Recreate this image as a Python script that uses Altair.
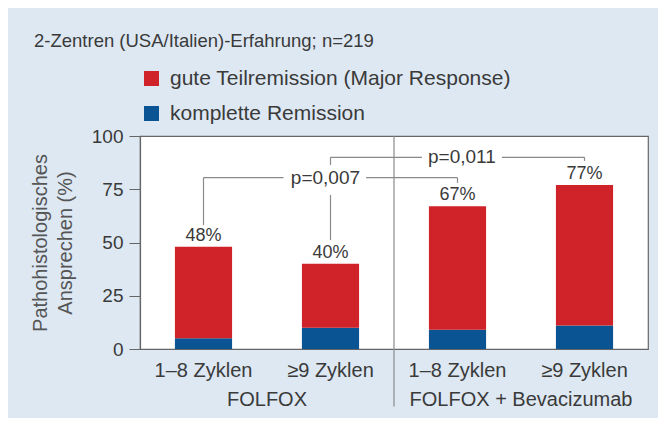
import altair as alt
import pandas as pd

# ---- data ----
keys = ["FOLFOX|1–8 Zyklen", "FOLFOX|≥9 Zyklen", "BEV|1–8 Zyklen", "BEV|≥9 Zyklen"]
total = [48, 40, 67, 77]          # total response (%)
complete = [5, 10, 9, 11]         # komplette Remission (%)
series = ["gute Teilremission (Major Response)", "komplette Remission"]
colors = ["#cf2329", "#0b5494"]

# bracket segments (x in category units 0..4, y in %)
seg_x = [0.5, 0.5, 1.78, 2.5, 1.5, 1.5, 1.5, 2.85, 3.5, 2.0]
seg_x2 = [0.5, 1.13, 2.5, 2.5, 1.5, 1.5, 2.22, 3.5, 3.5, 2.0]
seg_y = [58.2, 80.5, 80.5, 80.5, 51.2, 86.4, 90.0, 90.0, 90.0, 100]
seg_y2 = [80.5, 80.5, 80.5, 78.0, 72.3, 90.0, 90.0, 90.0, 88.3, -27]
seg_kind = ["b"] * 9 + ["d"]

p_text = ["p=0,007", "p=0,011"]
p_x = [1.46, 2.535]
p_y = [80.5, 90.0]

grp_text = ["FOLFOX", "FOLFOX + Bevacizumab"]
grp_x = [1.0, 3.0]
grp_y = [-24, -24]

FONT = "Liberation Sans"
TXT = "#3a3a3a"

rows = []
for i, k in enumerate(keys):
    rows.append({"key": k, "series": series[1], "val": complete[i], "ord": 0})
    rows.append({"key": k, "series": series[0], "val": total[i] - complete[i], "ord": 1})
bars_df = pd.DataFrame(rows)
lab_df = pd.DataFrame({"key": keys, "total": total,
                       "label": [f"{t}%" for t in total]})
seg_df = pd.DataFrame({"x": seg_x, "x2": seg_x2, "y": seg_y, "y2": seg_y2, "kind": seg_kind})
p_df = pd.DataFrame({"t": p_text, "x": p_x, "y": p_y})
grp_df = pd.DataFrame({"t": grp_text, "x": grp_x, "y": grp_y})

yscale = alt.Scale(domain=[0, 100], nice=False)
xband = alt.X("key:N", sort=keys, title=None,
              scale=alt.Scale(paddingInner=0.55, paddingOuter=0.275),
              axis=alt.Axis(labelExpr="split(datum.label, '|')[1]", labelAngle=0,
                            ticks=False, labelFontSize=20, labelPadding=11,
                            labelColor=TXT, labelFont=FONT, domainColor="#666",
                            domainWidth=1.2))

bars = alt.Chart(bars_df).mark_bar().encode(
    x=xband,
    y=alt.Y("val:Q", stack="zero", scale=yscale,
            title=["Pathohistologisches", "Ansprechen (%)"],
            axis=alt.Axis(values=[0, 25, 50, 75, 100], grid=False, tickSize=11,
                          tickColor="#666", domainColor="#666", domainWidth=1.2,
                          labelFontSize=19, labelColor=TXT, labelFont=FONT,
                          labelPadding=6, titleFontSize=20, titleFontWeight="normal",
                          titleColor="#555", titleFont=FONT, titlePadding=16,
                          titleLineHeight=25)),
    color=alt.Color("series:N", scale=alt.Scale(domain=series, range=colors),
                    legend=alt.Legend(orient="none", legendX=1, legendY=-68, title=None,
                                      symbolType="square", symbolSize=225,
                                      symbolStrokeWidth=0, labelFontSize=21,
                                      labelFont=FONT, labelColor=TXT, labelOffset=8,
                                      labelLimit=600, rowPadding=13, padding=0)),
    order=alt.Order("ord:Q"),
)

labels = alt.Chart(lab_df).mark_text(baseline="bottom", dy=-2, fontSize=18,
                                     font=FONT, color=TXT).encode(
    x=alt.X("key:N", sort=keys),
    y=alt.Y("total:Q", scale=yscale),
    text="label:N",
)

base_layer = alt.layer(bars, labels)

xq = alt.Scale(domain=[0, 4], nice=False, zero=False)
segs = alt.Chart(seg_df).mark_rule(color="#8a8a8a", strokeWidth=1.2).encode(
    x=alt.X("x:Q", scale=xq, axis=None),
    x2="x2:Q",
    y=alt.Y("y:Q", scale=yscale),
    y2="y2:Q",
)
ptext = alt.Chart(p_df).mark_text(fontSize=19, font=FONT, color=TXT).encode(
    x=alt.X("x:Q", scale=xq, axis=None),
    y=alt.Y("y:Q", scale=yscale),
    text="t:N",
)
gtext = alt.Chart(grp_df).mark_text(fontSize=20, font=FONT, color=TXT).encode(
    x=alt.X("x:Q", scale=xq, axis=None),
    y=alt.Y("y:Q", scale=yscale),
    text="t:N",
)
ann = alt.layer(segs, ptext, gtext)

chart = alt.layer(base_layer, ann).resolve_scale(x="independent").properties(
    width=508, height=213,
    autosize=alt.AutoSizeParams(type="none"),
    padding={"left": 132, "top": 128, "right": 10, "bottom": 69},
    background="#dde8f3",
    title=alt.TitleParams("2-Zentren (USA/Italien)-Erfahrung; n=219", anchor="start",
                          frame="group", dx=-106, offset=18, fontSize=18.5,
                          fontWeight="normal", font=FONT, color=TXT),
).configure_view(stroke="#666", strokeWidth=1.2, fill="white")

chart.save("out.html", embed_options={"renderer": "svg", "actions": False})
